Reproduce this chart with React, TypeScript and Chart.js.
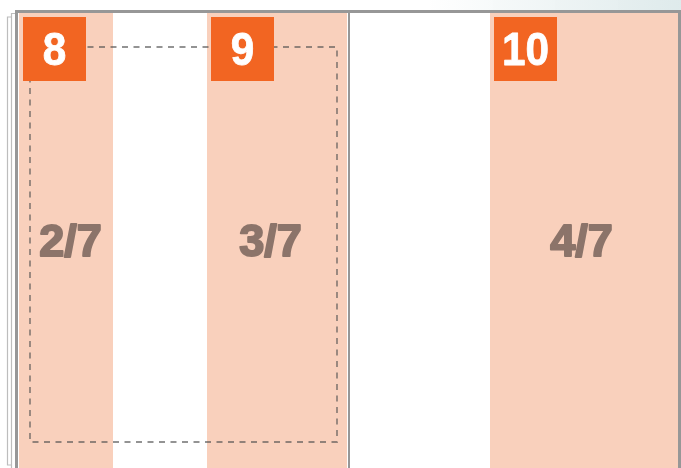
import React, { useEffect, useRef } from "react";
import { Chart, registerables } from "chart.js";

Chart.register(...registerables);

// Page numbers shown in the orange tabs and the fraction shown in each column
const pageNumbers = ["8", "9", "10"];
const fractions = ["2/7", "3/7", "4/7"];

// Column spans (axis units, x runs 0..681, y runs 0..468 downward)
const columnStart = [19, 207, 490];
const columnEnd = [113, 347, 678];
const columnTop = 13;
const columnBottom = 468;

// Tabs holding the page numbers
const tabStart = [23, 211, 494];
const tabEnd = [86, 274, 557];
const tabTop = 17;
const tabBottom = 81;
const tabBaseline = 65;

// Fraction label anchors
const fractionX = [70.5, 270.5, 581.5];
const fractionBaseline = 257;

// Dashed selection box
const boxLeft = 30;
const boxRight = 337;
const boxTop = 47;
const boxBottom = 442;

// Frame
const frameTop = 11.5;
const frameLeft = 16.5;
const frameRight = 679.5;
const dividerX = 349;

const X_MAX = 681;
const Y_MAX = 468;

const SALMON = "#F9D0BC";
const ORANGE = "#F26522";
const FRAME = "#979797";
const TEXT = "#8C746A";

function rectDataset(x0: number, x1: number, y0: number, y1: number, color: string, order: number) {
  return {
    data: [
      { x: x0, y: y0 },
      { x: x1, y: y0 },
    ],
    fill: { value: y1 },
    backgroundColor: color,
    borderColor: "rgba(0,0,0,0)",
    borderWidth: 0,
    pointRadius: 0,
    order,
  };
}

function lineDataset(pts: { x: number; y: number }[], color: string, width: number, order: number, dash: number[] = []) {
  return {
    data: pts,
    fill: false,
    borderColor: color,
    borderWidth: width,
    borderDash: dash,
    borderCapStyle: "butt" as const,
    pointRadius: 0,
    tension: 0,
    order,
  };
}

const labelPlugin = {
  id: "labels",
  beforeDraw(chart: any) {
    const { ctx, scales } = chart;
    const x0 = scales.x.getPixelForValue(430);
    const x1 = scales.x.getPixelForValue(X_MAX);
    const y0 = scales.y.getPixelForValue(0);
    const y1 = scales.y.getPixelForValue(10);
    const g = ctx.createLinearGradient(x0, 0, x1, 0);
    g.addColorStop(0, "rgba(222,234,235,0)");
    g.addColorStop(1, "rgba(222,234,235,1)");
    ctx.save();
    ctx.fillStyle = g;
    ctx.fillRect(x0, y0, x1 - x0, y1 - y0);
    ctx.restore();
  },
  afterDatasetsDraw(chart: any) {
    const { ctx, scales } = chart;
    ctx.save();
    ctx.textAlign = "center";
    ctx.textBaseline = "alphabetic";
    ctx.lineJoin = "round";
    ctx.fillStyle = "#FFFFFF";
    ctx.strokeStyle = "#FFFFFF";
    ctx.lineWidth = 0.8;
    ctx.font = 'bold 46px "Liberation Sans", Arial, sans-serif';
    pageNumbers.forEach((n, i) => {
      const cx = scales.x.getPixelForValue((tabStart[i] + tabEnd[i]) / 2);
      const cy = scales.y.getPixelForValue(tabBaseline);
      ctx.save();
      ctx.translate(cx, cy);
      ctx.scale(0.92, 1);
      ctx.fillText(n, 0, 0);
      ctx.strokeText(n, 0, 0);
      ctx.restore();
    });
    ctx.fillStyle = TEXT;
    ctx.strokeStyle = TEXT;
    ctx.lineWidth = 2;
    ctx.font = 'bold 45px "Liberation Sans", Arial, sans-serif';
    fractions.forEach((f, i) => {
      const cx = scales.x.getPixelForValue(fractionX[i]);
      const cy = scales.y.getPixelForValue(fractionBaseline) - 1;
      ctx.fillText(f, cx, cy);
      ctx.strokeText(f, cx, cy);
    });
    ctx.restore();
  },
};

export default function App() {
  const ref = useRef<HTMLCanvasElement | null>(null);

  useEffect(() => {
    if (!ref.current) return;
    const datasets: any[] = [];
    // columns
    columnStart.forEach((s, i) => datasets.push(rectDataset(s, columnEnd[i], columnTop, columnBottom, SALMON, 20)));
    // page stack lines on the left
    datasets.push(
      lineDataset(
        [
          { x: 12, y: 465 },
          { x: 7.5, y: 465 },
          { x: 7.5, y: 17 },
          { x: 11.5, y: 17 },
        ],
        "#BDBDBD",
        1.2,
        15
      )
    );
    datasets.push(
      lineDataset(
        [
          { x: 11.5, y: 468 },
          { x: 11.5, y: 13.5 },
          { x: 15, y: 13.5 },
        ],
        "#BDBDBD",
        1.2,
        15
      )
    );
    // frame
    datasets.push(
      lineDataset(
        [
          { x: frameLeft, y: Y_MAX },
          { x: frameLeft, y: frameTop },
          { x: frameRight, y: frameTop },
          { x: frameRight, y: Y_MAX },
        ],
        FRAME,
        3,
        10
      )
    );
    datasets.push(
      lineDataset(
        [
          { x: dividerX, y: frameTop },
          { x: dividerX, y: Y_MAX },
        ],
        FRAME,
        2,
        10
      )
    );
    // dashed box
    datasets.push(
      lineDataset(
        [
          { x: boxLeft, y: boxTop },
          { x: boxRight, y: boxTop },
          { x: boxRight, y: boxBottom },
          { x: boxLeft, y: boxBottom },
          { x: boxLeft, y: boxTop },
        ],
        "rgba(80,80,80,0.62)",
        1.8,
        5,
        [6, 5.5]
      )
    );
    // tabs
    tabStart.forEach((s, i) => datasets.push(rectDataset(s, tabEnd[i], tabTop, tabBottom, ORANGE, 1)));

    const chart = new Chart(ref.current, {
      type: "line",
      data: { datasets },
      options: {
        animation: false,
        responsive: true,
        maintainAspectRatio: false,
        events: [],
        layout: { padding: 0 },
        plugins: {
          legend: { display: false },
          tooltip: { enabled: false },
        },
        scales: {
          x: { type: "linear", min: 0, max: X_MAX, display: false },
          y: { type: "linear", min: 0, max: Y_MAX, reverse: true, display: false },
        },
      },
      plugins: [labelPlugin],
    } as any);
    return () => chart.destroy();
  }, []);

  return (
    <div style={{ position: "fixed", left: 0, top: 0, width: 681, height: 468, background: "#fff" }}>
      <canvas ref={ref} />
    </div>
  );
}
